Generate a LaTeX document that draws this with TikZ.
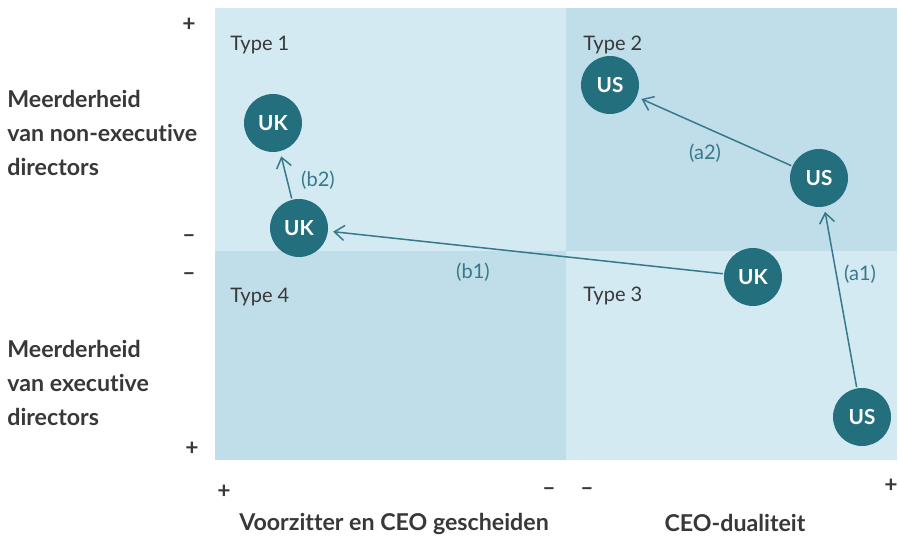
\documentclass[tikz,border=0pt]{standalone}
\usepackage{fontspec}
\setmainfont{Lato}[Ligatures={NoCommon}]
\usetikzlibrary{arrows.meta}
\definecolor{teal}{HTML}{236F7E}
\definecolor{arrowc}{HTML}{37788A}
\definecolor{ink}{HTML}{383838}
\definecolor{qlight}{HTML}{D3EAF3}
\definecolor{qdark}{HTML}{C0DEEA}
\begin{document}
\begin{tikzpicture}
[x=0.02cm,y=-0.02cm,
land/.style={circle,fill=teal,text=white,minimum size=58*0.02cm,inner sep=0pt,font=\bfseries\fontsize{11.8}{12}\selectfont},
move/.style={-{Straight Barb[length=0.2cm,width=0.3cm]},draw=arrowc,line width=0.85pt,shorten >=5*0.02cm,shorten <=1*0.02cm},
step label/.style={text=arrowc,font=\fontsize{11.4}{12}\selectfont},
quadrant/.style={text=ink,font=\fontsize{11.4}{12}\selectfont,anchor=base west,inner sep=0pt},
axis/.style={text=ink,font=\bfseries\fontsize{13.2}{19.4}\selectfont},
sign/.style={text=ink,font=\bfseries\fontsize{13}{14}\selectfont}]
\useasboundingbox (0,0) rectangle (899,540);

% the four quadrants
\fill[qlight] (215,8) rectangle (566,251);
\fill[qdark] (566,8) rectangle (897,251);
\fill[qdark] (215,251) rectangle (566,460);
\fill[qlight] (566,251) rectangle (897,460);

\node[quadrant] (t1) at (230,51) {Type 1};
\node[quadrant] (t2) at (583,51) {Type 2};
\node[quadrant] (t3) at (583,302) {Type 3};
\node[quadrant] (t4) at (230,303) {Type 4};

% countries
\node[land] (uktop) at (273,123) {UK};
\node[land] (ukmid) at (299,228) {UK};
\node[land] (usup) at (610,85) {US};
\node[land] (usmid) at (819,178) {US};
\node[land] (ukright) at (753,277) {UK};
\node[land] (usbot) at (862,417) {US};

\draw[move] (usbot) -- (usmid);
\draw[move] (usmid) -- (usup);
\draw[move] (ukright) -- (ukmid);
\draw[move] (ukmid) -- (uktop);

\node[step label] (a1) at (860,274) {(a1)};
\node[step label] (a2) at (705,153) {(a2)};
\node[step label] (b1) at (473,272) {(b1)};
\node[step label] (b2) at (318,180) {(b2)};

% axes
\node[axis,anchor=west,align=left,inner sep=0pt] (nonexec) at (7,133) {Meerderheid\\van non-executive\\directors};
\node[axis,anchor=west,align=left,inner sep=0pt] (exec) at (7,383) {Meerderheid\\van executive\\directors};
\node[axis] (split) at (394,524) {Voorzitter en CEO gescheiden};
\node[axis] (dual) at (735,523) {CEO-dualiteit};

\node[sign] (p1) at (189,25) {+};
\node[sign] (m1) at (189,239) {--};
\node[sign] (m2) at (189,277) {--};
\node[sign] (p2) at (192,449) {+};
\node[sign] (p3) at (224,492) {+};
\node[sign] (m3) at (549,492) {--};
\node[sign] (m4) at (587,492) {--};
\node[sign] (p4) at (891,486) {+};
\end{tikzpicture}
\end{document}
